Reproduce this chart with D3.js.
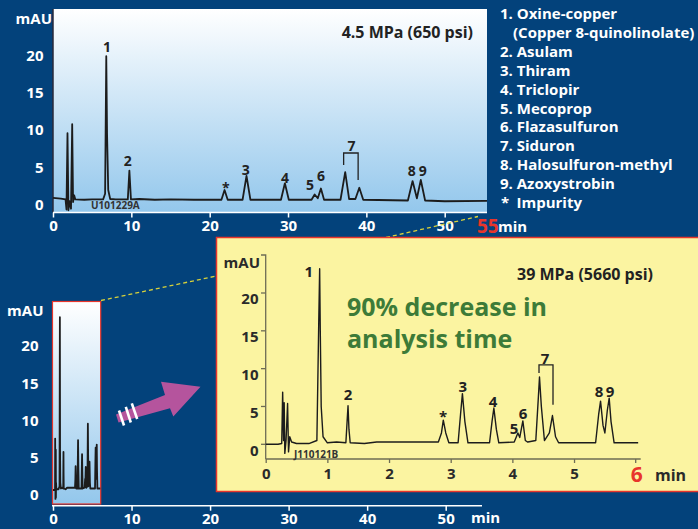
<!DOCTYPE html>
<html>
<head>
<meta charset="utf-8">
<script src="https://cdn.jsdelivr.net/npm/d3@7"></script>
<style>
  html, body { margin: 0; padding: 0; background: #03427b; }
  svg { display: block; }
  text { font-family: "Open Sans", "Noto Sans", sans-serif; font-weight: 700; }
</style>
</head>
<body>
<svg id="chart" width="698" height="529"></svg>
<script>
// 4.5 MPa run, [min, mAU]
const slowTrace = [
  [0, 0.95], [1.0, 0.85], [1.6, 0.75], [1.72, -0.6], [1.85, 9.6], [1.97, -0.7], [2.1, 0.5],
  [2.3, -0.5], [2.45, 10.8], [2.56, 0.4], [2.7, 1.3], [2.85, 0.75], [4, 0.7], [5, 0.75],
  [6.4, 0.75], [6.65, 1.5], [6.8, 19.9], [6.9, 9.5], [7.05, 2], [7.3, 0.8], [8, 0.75],
  [9.55, 0.75], [9.75, 4.6], [9.95, 0.75], [11, 0.8], [13, 0.7], [15, 0.75], [18, 0.7],
  [21.5, 0.7], [21.9, 2.0], [22.3, 0.7], [24.2, 0.7], [24.7, 3.9], [25.2, 0.7],
  [29.1, 0.7], [29.6, 2.9], [30.1, 0.7], [33.0, 0.7], [33.4, 1.4], [33.8, 0.9],
  [34.2, 2.2], [34.6, 0.7], [36.7, 0.7], [37.3, 4.4], [37.8, 0.8], [38.6, 0.8],
  [39.1, 2.3], [39.6, 0.7], [45.3, 0.6], [45.9, 3.2], [46.45, 0.9], [46.95, 3.35],
  [47.5, 0.6], [50, 0.5], [55.4, 0.55]
];

// 39 MPa run, [min, mAU]
const fastTrace = [
  [0, 0.0], [0.2, 0.0], [0.26, 0.1], [0.275, 6.9], [0.29, 0.5], [0.3, 5.5], [0.31, -1.2],
  [0.33, 0.5], [0.355, 5.4], [0.37, -1.0], [0.39, 1.0], [0.42, 0.3], [0.5, 0.1], [0.7, 0.1],
  [0.83, 0.5], [0.86, 16], [0.875, 23.2], [0.885, 15], [0.9, 5], [0.93, 1], [1.0, 0.2],
  [1.15, 0.3], [1.3, 0.2], [1.32, 3], [1.335, 5.1], [1.35, 2], [1.37, 0.2], [1.6, 0.1],
  [1.8, 0.3], [2.2, 0.3], [2.8, 0.3], [2.85, 1.5], [2.88, 3.2], [2.92, 1.5], [2.97, 0.2],
  [3.12, 0.2], [3.16, 4], [3.19, 6.7], [3.23, 3], [3.28, 0.2], [3.63, 0.2], [3.67, 3],
  [3.70, 4.8], [3.74, 2], [3.78, 0.2], [4.03, 0.3], [4.09, 1.5], [4.12, 0.9], [4.17, 3.1],
  [4.21, 0.5], [4.25, 0.3], [4.38, 0.5], [4.42, 6], [4.44, 8.9], [4.47, 5], [4.52, 0.5],
  [4.6, 1.5], [4.65, 3.8], [4.7, 1.0], [4.75, 0.2], [5.35, 0.2], [5.4, 4], [5.43, 5.7],
  [5.47, 2.5], [5.5, 1.5], [5.54, 4.5], [5.57, 6.1], [5.6, 3], [5.65, 0.2], [6.04, 0.2]
];

// peak labels: [text, min, mAU of label centre]
const slowLabels = [
  ["1", 6.9, 21.1], ["2", 9.55, 5.9], ["*", 22.07, 2.2], ["3", 24.6, 4.7], ["4", 29.6, 3.6],
  ["5", 32.8, 2.7], ["6", 34.2, 3.9], ["7", 38.1, 7.9], ["8", 45.8, 4.5], ["9", 47.2, 4.5]
];
const fastLabels = [
  ["1", 0.70, 22.8], ["2", 1.335, 6.5], ["*", 2.875, 3.65], ["3", 3.195, 7.66], ["4", 3.686, 5.66],
  ["5", 4.026, 2.0], ["6", 4.172, 4.03], ["7", 4.53, 11.3], ["8", 5.405, 7.0], ["9", 5.583, 7.0]
];
// bracket over peak 7: [min left, min right, top, left end, right end]
const slowBracket = [37.1, 38.95, 6.95, 5.35, 3.35];
const fastBracket = [4.432, 4.659, 10.5, 9.44, 5.23];

const yTicks = [0, 5, 10, 15, 20];
const slowXTicks = [0, 10, 20, 30, 40, 50];
const fastXTicks = [0, 1, 2, 3, 4, 5];

const legendItems = [
  "1. Oxine-copper", "(Copper 8-quinolinolate)", "2. Asulam", "3. Thiram", "4. Triclopir",
  "5. Mecoprop", "6. Flazasulfuron", "7. Siduron", "8. Halosulfuron-methyl", "9. Azoxystrobin"
];

const navy = '#03427b';
const red = '#e8352b';
const ink = '#1c1c1c';

const svg = d3.select('#chart');
svg.append('rect').attr('width', 698).attr('height', 529).attr('fill', navy);

const defs = svg.append('defs');
const grad = defs.append('linearGradient').attr('id', 'skyGrad')
  .attr('x1', 0).attr('y1', 0).attr('x2', 0).attr('y2', 1);
grad.append('stop').attr('offset', '0%').attr('stop-color', '#ffffff');
grad.append('stop').attr('offset', '100%').attr('stop-color', '#93c7ec');

const line = (xs, ys) => d3.line().x(d => xs(d[0])).y(d => ys(d[1]));

function drawLabels(g, data, xs, ys, size) {
  g.selectAll(null).data(data).join('text')
    .attr('x', d => xs(d[1]))
    .attr('y', d => ys(d[2]))
    .attr('dy', '0.35em')
    .attr('text-anchor', 'middle')
    .attr('font-size', size)
    .attr('fill', '#222')
    .text(d => d[0]);
}

function drawBracket(g, b, xs, ys) {
  const [t1, t2, topV, l, r] = b;
  g.append('path')
    .attr('d', `M${xs(t1)},${ys(l)}V${ys(topV)}H${xs(t2)}V${ys(r)}`)
    .attr('fill', 'none').attr('stroke', '#222').attr('stroke-width', 1.3);
}

// ---------- top chart (4.5 MPa) ----------
const xTop = d3.scaleLinear().domain([0, 55.4]).range([53, 487]);
const yTop = d3.scaleLinear().domain([0, 20]).range([205, 55.4]);
const topG = svg.append('g');

topG.append('rect').attr('x', 53).attr('y', 9).attr('width', 434).attr('height', 203.5)
  .attr('fill', 'url(#skyGrad)');
topG.append('line').attr('x1', 53).attr('x2', 53).attr('y1', 9).attr('y2', 212.5)
  .attr('stroke', '#2a2a3a').attr('stroke-width', 1.5);

const topAxis = topG.append('g').attr('transform', 'translate(0,212.5)')
  .call(d3.axisBottom(xTop).tickValues(slowXTicks).tickSize(5).tickPadding(3));
topAxis.select('.domain').remove();
topAxis.append('line').attr('x1', 53).attr('x2', 487).attr('stroke', '#fff').attr('stroke-width', 1.5);
topAxis.selectAll('.tick line').attr('stroke', '#fff').attr('stroke-width', 1.5);
topAxis.selectAll('.tick text').attr('fill', '#fff').attr('font-size', 15)
  .attr('font-family', '"Open Sans", sans-serif').attr('font-weight', 700);

topG.append('text').attr('x', 477).attr('y', 226).attr('dy', '0.35em')
  .attr('font-size', 19).attr('fill', red).text('55');
topG.append('text').attr('x', 498).attr('y', 227).attr('dy', '0.35em')
  .attr('font-size', 15).attr('fill', '#fff').text('min');

topG.selectAll(null).data(yTicks).join('text')
  .attr('x', 43.5).attr('y', d => yTop(d)).attr('dy', '0.35em')
  .attr('text-anchor', 'end').attr('font-size', 15).attr('fill', '#fff').text(d => d);
topG.append('text').attr('x', 52).attr('y', 19).attr('dy', '0.35em')
  .attr('text-anchor', 'end').attr('font-size', 15).attr('fill', '#fff').text('mAU');

topG.append('path').datum(slowTrace).attr('d', line(xTop, yTop))
  .attr('fill', 'none').attr('stroke', ink).attr('stroke-width', 1.8).attr('stroke-linejoin', 'round');

drawLabels(topG, slowLabels, xTop, yTop, 14);
drawBracket(topG, slowBracket, xTop, yTop);

topG.append('text').attr('x', 91).attr('y', 205).attr('dy', '0.35em')
  .attr('font-size', 10).attr('fill', '#333').text('U101229A');
topG.append('text').attr('x', 473).attr('y', 32).attr('dy', '0.35em')
  .attr('text-anchor', 'end').attr('font-size', 16).attr('fill', '#222').text('4.5 MPa (650 psi)');

// ---------- legend ----------
const legend = svg.append('g').attr('fill', '#fff').attr('font-size', 15);
legend.selectAll(null).data(legendItems).join('text')
  .attr('x', (d, i) => i === 1 ? 513 : 500)
  .attr('y', (d, i) => 14 + i * 18.85)
  .attr('dy', '0.35em')
  .text(d => d);
const imp = legend.append('text').attr('y', 14 + 10 * 18.85).attr('dy', '0.35em');
imp.append('tspan').attr('x', 501).text('*');
imp.append('tspan').attr('x', 516.5).text('Impurity');

// ---------- bottom-left overview ----------
const xMini = d3.scaleLinear().domain([0, 50]).range([53, 445.7]);
const yMini = d3.scaleLinear().domain([0, 20]).range([490, 341]);
const mini = svg.append('g');

defs.append('clipPath').attr('id', 'miniClip').append('rect')
  .attr('x', 52.5).attr('y', 301.5).attr('width', 48.2).attr('height', 202.5);
mini.append('rect').attr('x', 52.5).attr('y', 301.5).attr('width', 48.2).attr('height', 202.5)
  .attr('fill', 'url(#skyGrad)').attr('stroke', red).attr('stroke-width', 1.2);
mini.append('path').datum(fastTrace).attr('d', line(xMini, yMini))
  .attr('clip-path', 'url(#miniClip)')
  .attr('fill', 'none').attr('stroke', ink).attr('stroke-width', 1.8).attr('stroke-linejoin', 'round');

const miniAxis = mini.append('g').attr('transform', 'translate(0,505.7)')
  .call(d3.axisBottom(xMini).tickValues(slowXTicks).tickSize(5).tickPadding(3));
miniAxis.select('.domain').remove();
miniAxis.append('line').attr('x1', 52).attr('x2', 482).attr('stroke', '#fff').attr('stroke-width', 1.5);
miniAxis.selectAll('.tick line').attr('stroke', '#fff').attr('stroke-width', 1.5);
miniAxis.selectAll('.tick text').attr('fill', '#fff').attr('font-size', 15)
  .attr('font-family', '"Open Sans", sans-serif').attr('font-weight', 700);
mini.append('text').attr('x', 471).attr('y', 518).attr('dy', '0.35em')
  .attr('font-size', 15).attr('fill', '#fff').text('min');

mini.selectAll(null).data(yTicks).join('text')
  .attr('x', 38.5).attr('y', d => yMini(d) + 5).attr('dy', '0.35em')
  .attr('text-anchor', 'end').attr('font-size', 15).attr('fill', '#fff').text(d => d);
mini.append('text').attr('x', 43.5).attr('y', 311).attr('dy', '0.35em')
  .attr('text-anchor', 'end').attr('font-size', 15).attr('fill', '#fff').text('mAU');

// ---------- zoom connectors and arrow ----------
svg.append('line').attr('x1', 101).attr('y1', 300.5).attr('x2', 216.5).attr('y2', 276)
  .attr('stroke', '#d8d23a').attr('stroke-width', 1.3).attr('stroke-dasharray', '4,3');
svg.append('line').attr('x1', 386).attr('y1', 237.5).attr('x2', 478).attr('y2', 216.5)
  .attr('stroke', '#d8d23a').attr('stroke-width', 1.3).attr('stroke-dasharray', '4,3');

svg.append('path')
  .attr('d', 'M116,414.5L165,395L161,381.7L200.5,386.7L173.3,416.5L170,408.3L118.5,422.5Z')
  .attr('fill', '#b5549d');
[[119, 410.5, 124, 425.5], [125.8, 406.8, 130.8, 422.5], [131.8, 403.3, 137.2, 419]].forEach(s => {
  svg.append('line').attr('x1', s[0]).attr('y1', s[1]).attr('x2', s[2]).attr('y2', s[3])
    .attr('stroke', '#fff').attr('stroke-width', 2.6);
});

// ---------- inset (39 MPa) ----------
const xIn = d3.scaleLinear().domain([0, 6]).range([265.7, 635.7]);
const yIn = d3.scaleLinear().domain([0, 20]).range([444.3, 293]);
const inset = svg.append('g');

inset.append('rect').attr('x', 216.5).attr('y', 237.5).attr('width', 490).attr('height', 254)
  .attr('fill', '#fbf4a1').attr('stroke', red).attr('stroke-width', 1.5);

const axisColor = '#6e6c55';
const inXAxis = inset.append('g').attr('transform', 'translate(0,459)')
  .call(d3.axisBottom(xIn).tickValues(fastXTicks).tickFormat(d3.format('d')).tickSize(4).tickPadding(5));
inXAxis.select('.domain').remove();
inXAxis.append('line').attr('x1', 265.7).attr('x2', 640.7).attr('stroke', axisColor).attr('stroke-width', 1.3);
inXAxis.selectAll('.tick line').attr('stroke', axisColor).attr('stroke-width', 1.3);
inXAxis.selectAll('.tick text').attr('fill', '#2a2a2a').attr('font-size', 15)
  .attr('font-family', '"Open Sans", sans-serif').attr('font-weight', 700);
inset.append('line').attr('x1', xIn(6)).attr('x2', xIn(6)).attr('y1', 459).attr('y2', 463)
  .attr('stroke', axisColor).attr('stroke-width', 1.3);
inset.append('text').attr('x', xIn(6) + 1).attr('y', 475).attr('dy', '0.35em')
  .attr('text-anchor', 'middle').attr('font-size', 21).attr('fill', red).text('6');
inset.append('text').attr('x', 655).attr('y', 475).attr('dy', '0.35em')
  .attr('font-size', 16).attr('fill', '#2a2a2a').text('min');

inset.append('path').attr('d', 'M261,255H265.7V459')
  .attr('fill', 'none').attr('stroke', axisColor).attr('stroke-width', 1.3);
inset.selectAll(null).data(yTicks).join('line')
  .attr('x1', 261).attr('x2', 265.7).attr('y1', d => yIn(d)).attr('y2', d => yIn(d))
  .attr('stroke', axisColor).attr('stroke-width', 1.3);
inset.selectAll(null).data(yTicks).join('text')
  .attr('x', 258.5).attr('y', d => yIn(d) + 6).attr('dy', '0.35em')
  .attr('text-anchor', 'end').attr('font-size', 15).attr('fill', '#2a2a2a').text(d => d);
inset.append('text').attr('x', 260).attr('y', 263).attr('dy', '0.35em')
  .attr('text-anchor', 'end').attr('font-size', 15).attr('fill', '#2a2a2a').text('mAU');

inset.append('path').datum(fastTrace).attr('d', line(xIn, yIn))
  .attr('fill', 'none').attr('stroke', ink).attr('stroke-width', 1.4).attr('stroke-linejoin', 'round');

drawLabels(inset, fastLabels, xIn, yIn, 15);
drawBracket(inset, fastBracket, xIn, yIn);

inset.append('text').attr('x', 294).attr('y', 454).attr('dy', '0.35em')
  .attr('font-size', 10).attr('fill', '#333').text('J110121B');
inset.append('text').attr('x', 653).attr('y', 274).attr('dy', '0.35em')
  .attr('text-anchor', 'end').attr('font-size', 16).attr('fill', '#222').text('39 MPa (5660 psi)');

inset.append('text').attr('x', 347).attr('y', 307).attr('dy', '0.35em')
  .attr('font-size', 25).attr('fill', '#3d7b38').text('90% decrease in');
inset.append('text').attr('x', 347).attr('y', 339).attr('dy', '0.35em')
  .attr('font-size', 25).attr('fill', '#3d7b38').text('analysis time');
</script>
</body>
</html>
